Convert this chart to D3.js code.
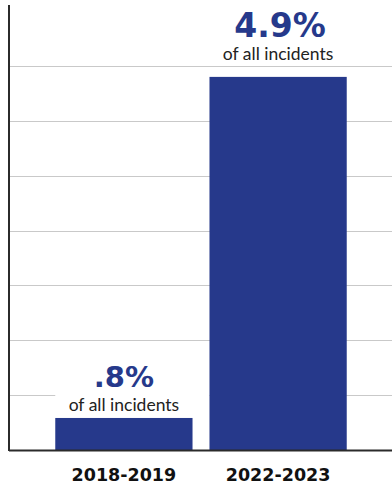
<!DOCTYPE html>
<html><head><meta charset="utf-8">
<script src="https://cdn.jsdelivr.net/npm/d3@7"></script>
<style>html,body{margin:0;padding:0;background:#fff;}svg{display:block;}</style>
</head><body>
<script>
const categories = ["2018-2019", "2022-2023"];
const values = [0.8, 4.9];
const valueLabels = [".8%", "4.9%"];
const subLabel = "of all incidents";
const gridTicks = [1, 2, 3, 4, 5, 6, 7];

const W = 392, H = 486;
const navy = "#26398b";
const svg = d3.select("body").append("svg").attr("width", W).attr("height", H);

const axisX = 9, baseY = 450;
const x = d3.scaleBand().domain(categories).range([axisX, 393]).paddingInner(0.11).paddingOuter(0.3);
const y = d3.scaleLinear().domain([0.415, 5.68]).range([baseY, 12]);
const g = d3.scaleLinear().domain([0, 7]).range([baseY, 66]);

// gridlines
svg.append("g").selectAll("line").data(gridTicks).join("line")
  .attr("x1", axisX).attr("x2", W)
  .attr("y1", d => Math.round(g(d)) + 0.5).attr("y2", d => Math.round(g(d)) + 0.5)
  .attr("stroke", "#c9c9c9").attr("stroke-width", 1.2);

// white box behind small label
svg.append("rect")
  .attr("x", x(categories[0])).attr("width", x(categories[1]) - x(categories[0]))
  .attr("y", 362).attr("height", y(values[0]) - 362).attr("fill", "#fff");

// bars
svg.append("g").selectAll("rect").data(values).join("rect")
  .attr("x", (d, i) => x(categories[i])).attr("width", x.bandwidth())
  .attr("y", d => y(d)).attr("height", d => baseY - y(d))
  .attr("fill", navy);

// axes lines
svg.append("line").attr("x1", axisX).attr("x2", axisX).attr("y1", 5).attr("y2", baseY + 1)
  .attr("stroke", "#2b2b2b").attr("stroke-width", 2);
svg.append("line").attr("x1", axisX).attr("x2", W).attr("y1", baseY + 0.5).attr("y2", baseY + 0.5)
  .attr("stroke", "#2b2b2b").attr("stroke-width", 2);

// category labels
svg.append("g").selectAll("text").data(categories).join("text")
  .attr("x", d => x(d) + x.bandwidth() / 2).attr("y", 481)
  .attr("text-anchor", "middle")
  .attr("font-family", "'DejaVu Sans', sans-serif").attr("font-weight", "bold")
  .attr("font-size", 17.5).attr("fill", "#111")
  .text(d => d);

// value labels
const bigSize = [29, 33];
values.forEach((v, i) => {
  const cx = x(categories[i]) + x.bandwidth() / 2;
  const top = y(v);
  svg.append("text").attr("x", cx + (i ? 2 : 0)).attr("y", top - 31 - (i ? 9 : 0))
    .attr("text-anchor", "middle")
    .attr("font-family", "'DejaVu Sans', sans-serif").attr("font-weight", "bold")
    .attr("font-size", bigSize[i]).attr("fill", navy)
    .text(valueLabels[i]);
  svg.append("text").attr("x", cx).attr("y", top - 7 - (i ? 10 : 0))
    .attr("text-anchor", "middle")
    .attr("font-family", "'Lato', sans-serif")
    .attr("font-size", 17.5).attr("fill", "#222")
    .text(subLabel);
});
</script>
</body></html>
